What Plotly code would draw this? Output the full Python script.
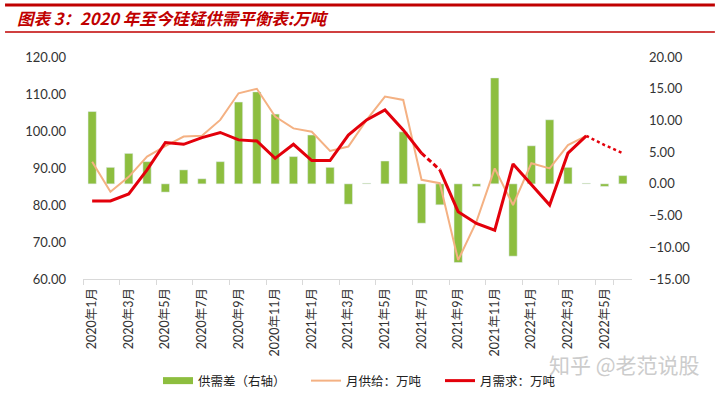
import plotly.graph_objects as go

months = [f"{y}年{m}月" for y, m in
          [(2020, m) for m in range(1, 13)] + [(2021, m) for m in range(1, 13)] + [(2022, m) for m in range(1, 7)]]

supply = [91.7, 83.6, 87.6, 93.1, 95.9, 98.5, 98.7, 103.0, 110.2, 111.4, 103.9, 100.7, 99.8, 94.6,
          95.8, 103.0, 109.3, 108.4, 86.8, 85.9, 65.1, 75.5, 89.9, 80.0, 91.3, 89.9, 96.2, 98.7, None, None]
demand = [81.1, 81.1, 83.0, 89.5, 96.9, 96.4, 98.2, 99.6, 97.6, 97.3, 92.6, 96.4, 92.0, 92.0,
          98.9, 103.0, 105.7, 100.3, 94.0, 89.5, 78.2, 75.0, 73.2, 91.1, 85.4, 80.0, 94.0, 98.7, 96.2, 94.0]
gap = [11.4, 2.6, 4.8, 3.5, -1.3, 2.2, 0.8, 3.5, 12.9, 14.5, 11.0, 4.3, 7.7, 2.6, -3.2, 0.1,
       3.6, 8.2, -6.2, -3.3, -12.4, -0.4, 16.7, -11.4, 6.0, 10.1, 2.6, 0.1, -0.4, 1.3]

tick_labels = months[::2]


def seg(vals, a, b):
    return [v if a <= i <= b else None for i, v in enumerate(vals)]


GREEN = "#8DBE3F"
ORANGE = "#F4B183"
RED = "#E3000B"
FONT = "Lato, Noto Sans CJK SC, sans-serif"

fig = go.Figure()
fig.add_trace(go.Bar(x=months, y=gap, name="供需差（右轴）", marker_color=GREEN,
                     width=0.45, yaxis="y", showlegend=False))
# legend-only entry for the bar series (wide flat swatch like the original)
fig.add_trace(go.Scatter(x=[None], y=[None], name="供需差（右轴）", mode="lines",
                         line=dict(color=GREEN, width=7), yaxis="y", legend="legend"))
# supply line
fig.add_trace(go.Scatter(x=months, y=supply, name="月供给：万吨", mode="lines",
                         line=dict(color=ORANGE, width=2), yaxis="y2", legend="legend2"))
# demand line
fig.add_trace(go.Scatter(x=months, y=seg(demand, 0, 18), name="月需求：万吨", mode="lines",
                         line=dict(color=RED, width=3), yaxis="y2", legend="legend3"))
fig.add_trace(go.Scatter(x=months, y=seg(demand, 18, 19), mode="lines", showlegend=False,
                         line=dict(color=RED, width=3, dash="5px,3px"), yaxis="y2"))
fig.add_trace(go.Scatter(x=months, y=seg(demand, 19, 27), mode="lines", showlegend=False,
                         line=dict(color=RED, width=3), yaxis="y2"))
fig.add_trace(go.Scatter(x=months, y=seg(demand, 27, 29), mode="lines", showlegend=False,
                         line=dict(color=RED, width=2.5, dash="dot"), yaxis="y2"))

PX0, PW, PY0, PH = 83, 549, 279, 222
LEG_Y = (PY0 - 381) / PH
leg_common = dict(orientation="h", y=LEG_Y, xanchor="left", yanchor="middle",
                  font=dict(size=12.5, color="#222222"), itemwidth=30,
                  bgcolor="rgba(0,0,0,0)")

fig.update_layout(
    width=720, height=397,
    margin=dict(l=83, r=88, t=57, b=118, autoexpand=False),
    paper_bgcolor="white", plot_bgcolor="white",
    font=dict(family=FONT, size=12, color="#333333"),
    showlegend=True,
    legend=dict(x=(158 - PX0) / PW, **leg_common),
    legend2=dict(x=(306 - PX0) / PW, **leg_common),
    legend3=dict(x=(440 - PX0) / PW, **leg_common),
    bargap=0.5,
    xaxis=dict(type="category", tickmode="array", tickvals=tick_labels, ticktext=tick_labels,
               tickangle=-90, tickson="boundaries", ticks="outside", ticklen=5,
               tickcolor="#D9D9D9", showline=True, linecolor="#D9D9D9", linewidth=1,
               showgrid=False, tickfont=dict(size=12.5, color="#333333"),
               ticklabelstandoff=3, range=[-0.5, 29.5], automargin=False),
    yaxis=dict(side="right", range=[-15, 20], dtick=5, tickformat=".2f", showgrid=False,
               zeroline=False, showline=False, ticks="", tickfont=dict(size=13, color="#333333"),
               ticklabelstandoff=16, automargin=False),
    yaxis2=dict(side="left", overlaying="y", range=[60, 120], dtick=10, tickformat=".2f",
                showgrid=False, zeroline=False, showline=False, ticks="",
                tickfont=dict(size=13, color="#333333"), ticklabelstandoff=16, automargin=False),
)

# Title with red rules
fig.add_shape(type="line", xref="paper", yref="paper", x0=-0.142, x1=1.151, y0=1.234, y1=1.234,
              line=dict(color="#C00000", width=3))
fig.add_shape(type="line", xref="paper", yref="paper", x0=-0.142, x1=1.151, y0=1.1126, y1=1.1126,
              line=dict(color="#C00000", width=1.5))
fig.add_annotation(xref="paper", yref="paper", x=-0.124, y=1.174, xanchor="left", yanchor="middle",
                   text="<b><i>图表 3：2020 年至今硅锰供需平衡表:万吨</i></b>", showarrow=False,
                   font=dict(size=16.5, color="#C00000", family="Noto Sans CJK SC"))
# watermark
fig.add_annotation(xref="paper", yref="paper", x=(624 - PX0) / PW, y=(PY0 - 364) / PH,
                   xanchor="center", yanchor="middle",
                   text="知乎 @老范说股", showarrow=False,
                   font=dict(size=21, color="#CCCCCC", family="Noto Sans CJK SC"))

fig.write_html("out.html", config={"displayModeBar": False},
               post_script="document.body.style.margin='0';")
